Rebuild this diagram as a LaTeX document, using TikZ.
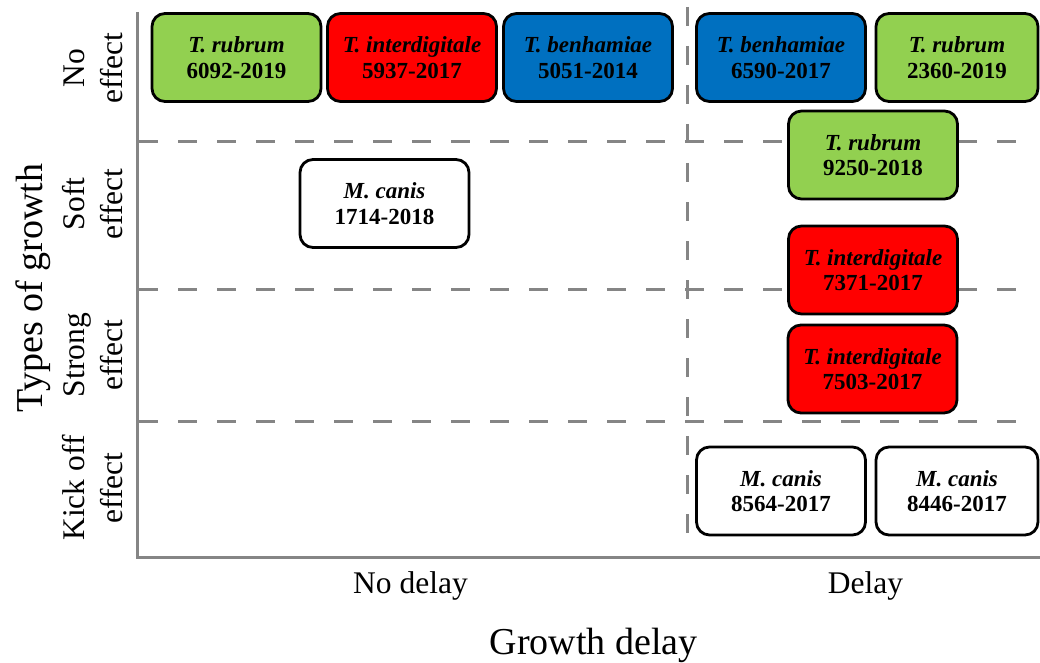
\documentclass[tikz,border=0pt]{standalone}
\usepackage{fontspec}
\setmainfont{Liberation Serif}
\definecolor{bxgreen}{HTML}{92D050}
\definecolor{bxred}{HTML}{FF0000}
\definecolor{bxblue}{HTML}{0070C0}
\definecolor{axgray}{HTML}{858585}
\tikzset{
  strain/.style={draw=black, line width=2.8pt, rounded corners=13pt,
    minimum width=169pt, minimum height=88pt, inner sep=0pt, align=center,
    font=\fontsize{23}{25.5}\selectfont\bfseries},
  axisline/.style={draw=axgray, line width=3pt},
  gridline/.style={draw=axgray, line width=3pt, dash pattern=on 19pt off 20pt},
  rowlabel/.style={rotate=90, align=center, font=\fontsize{31.5}{38}\selectfont},
  collabel/.style={anchor=base, font=\fontsize{31.5}{38}\selectfont},
  biglabel/.style={font=\fontsize{38}{44}\selectfont}
}
\begin{document}
\begin{tikzpicture}[x=1pt,y=-1pt]
\useasboundingbox (0,0) rectangle (1040,663);
% axes
\coordinate (axtop) at (137,12);
\coordinate (axorig) at (137,557);
\coordinate (axright) at (1042,557);
\draw[axisline] (axtop) -- (axorig) -- (axright);
% grid lines
\coordinate (h1a) at (139,142); \coordinate (h1b) at (1032,142);
\coordinate (h2a) at (139,289); \coordinate (h2b) at (1032,289);
\coordinate (h3a) at (139,421); \coordinate (h3b) at (1032,421);
\coordinate (v1a) at (687,7);   \coordinate (v1b) at (687,547);
\draw[gridline] (h1a) -- (h1b);
\draw[gridline] (h2a) -- (h2b);
\draw[gridline] (h3a) -- (h3b);
\draw[gridline] (v1a) -- (v1b);
% boxes: no effect
\node[strain, fill=bxgreen] (g1) at (236.5,57.5) {\textit{T. rubrum}\\6092-2019};
\node[strain, fill=bxred]   (r1) at (412,57.5) {\textit{T. interdigitale}\\5937-2017};
\node[strain, fill=bxblue]  (b1) at (588,57.5) {\textit{T. benhamiae}\\5051-2014};
\node[strain, fill=bxblue]  (b2) at (781,57.5) {\textit{T. benhamiae}\\6590-2017};
\node[strain, fill=bxgreen, minimum width=162pt] (g2) at (957,57.5) {\textit{T. rubrum}\\2360-2019};
% soft effect
\node[strain, fill=white]   (m1) at (384.5,203.5) {\textit{M. canis}\\1714-2018};
\node[strain, fill=bxgreen] (g3) at (873,155) {\textit{T. rubrum}\\9250-2018};
\node[strain, fill=bxred]   (r2) at (873,270) {\textit{T. interdigitale}\\7371-2017};
% strong effect
\node[strain, fill=bxred]   (r3) at (872.5,369) {\textit{T. interdigitale}\\7503-2017};
% kick off effect
\node[strain, fill=white]   (m2) at (781,491) {\textit{M. canis}\\8564-2017};
\node[strain, fill=white, minimum width=162pt] (m3) at (957,491) {\textit{M. canis}\\8446-2017};
% row labels
\node[rowlabel] (l1) at (93,68) {No\\effect};
\node[rowlabel] (l2) at (93,204) {Soft\\effect};
\node[rowlabel] (l3) at (93,355) {Strong\\effect};
\node[rowlabel] (l4) at (93,488) {Kick off\\effect};
\node[biglabel, rotate=90] (ty) at (33,288) {Types of growth};
% column labels
\node[collabel] (c1) at (410.5,593) {No delay};
\node[collabel] (c2) at (865.5,593) {Delay};
\node[biglabel, anchor=base] (gd) at (593.5,654) {Growth delay};
\end{tikzpicture}
\end{document}
